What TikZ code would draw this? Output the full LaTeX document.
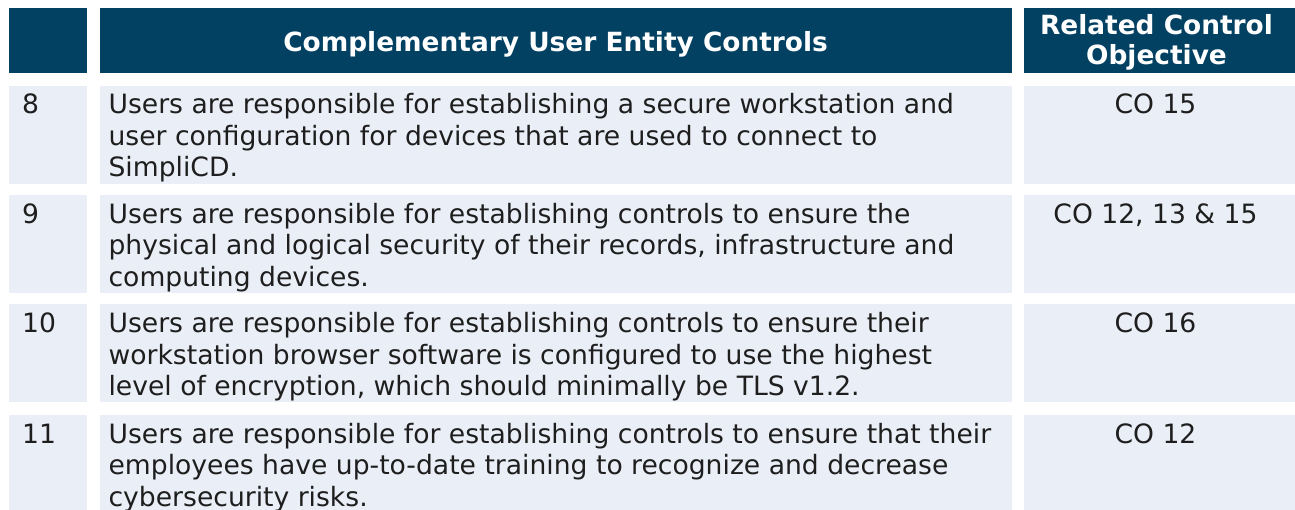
\documentclass[tikz,border=0pt]{standalone}
\usepackage{fontspec}
\usetikzlibrary{positioning}
\newfontfamily\bodyfont{DejaVu Sans}
\newfontfamily\headfont{DejaVu Sans}
\definecolor{headblue}{RGB}{3,65,99}
\definecolor{rowblue}{RGB}{234,239,247}
\definecolor{inkgray}{RGB}{30,30,30}
\tikzset{
  x=1pt, y=-1pt, % one unit is one pixel of the table, y runs down
  head/.style={fill=headblue, inner sep=0pt, minimum height=65pt}, % dark header cell
  cell/.style={fill=rowblue, inner sep=0pt, minimum height=98pt}, % light body cell
  numcol/.style={minimum width=78pt},
  desccol/.style={minimum width=912pt},
  objcol/.style={minimum width=271pt},
  txt/.style={text=inkgray, inner sep=0pt, align=left, font=\bodyfont\fontsize{26.6}{31.5}\selectfont},
  htxt/.style={text=white, inner sep=0pt, align=center, font=\headfont\bfseries\fontsize{26.4}{30}\selectfont},
}
\begin{document}
\begin{tikzpicture}
    \useasboundingbox (0,0) rectangle (1295,510);

    % header row
    \node[head, numcol, anchor=north west] (h1) at (9,8) {};
    \node[head, desccol, right=12pt of h1] (h2) {};
    \node[head, objcol, right=12pt of h2] (h3) {};

    % body cells
    \node[cell, numcol, below=12pt of h1.south west, anchor=north west] (n8) {};
    \node[cell, desccol, right=12pt of n8] (d8) {};
    \node[cell, objcol, right=12pt of d8] (o8) {};

    \node[cell, numcol, below=11pt of n8.south west, anchor=north west] (n9) {};
    \node[cell, desccol, right=12pt of n9] (d9) {};
    \node[cell, objcol, right=12pt of d9] (o9) {};

    \node[cell, numcol, below=11pt of n9.south west, anchor=north west] (n10) {};
    \node[cell, desccol, right=12pt of n10] (d10) {};
    \node[cell, objcol, right=12pt of d10] (o10) {};

    \node[cell, numcol, below=12pt of n10.south west, anchor=north west] (n11) {};
    \node[cell, desccol, right=12pt of n11] (d11) {};
    \node[cell, objcol, right=12pt of d11] (o11) {};

    % header texts (base is the last line)
    \node[htxt, anchor=base] (ht2) at ([yshift=-44pt]h2.north) {Complementary User Entity Controls};
    \node[htxt, anchor=base] (ht3) at ([xshift=-3pt, yshift=-57pt]h3.north) {Related Control\\Objective};

    % row texts (three lines: base of the last one is 63pt under the first)
    \node[txt, anchor=base west] (tn8) at ([xshift=13pt, yshift=-28.5pt]n8.north west) {8};
    \node[txt, anchor=base west] (td8) at ([xshift=9pt, yshift=-91.5pt]d8.north west)
      {Users are responsible for establishing a secure workstation and\\user configuration for devices that are used to connect to\\SimpliCD.};
    \node[txt, anchor=base] (to8) at ([xshift=-4pt, yshift=-28.5pt]o8.north) {CO 15};

    \node[txt, anchor=base west] (tn9) at ([xshift=13pt, yshift=-28.5pt]n9.north west) {9};
    \node[txt, anchor=base west] (td9) at ([xshift=9pt, yshift=-91.5pt]d9.north west)
      {Users are responsible for establishing controls to ensure the\\physical and logical security of their records, infrastructure and\\computing devices.};
    \node[txt, anchor=base] (to9) at ([xshift=-4pt, yshift=-28.5pt]o9.north) {CO 12, 13 \& 15};

    \node[txt, anchor=base west] (tn10) at ([xshift=13pt, yshift=-28.5pt]n10.north west) {10};
    \node[txt, anchor=base west] (td10) at ([xshift=9pt, yshift=-91.5pt]d10.north west)
      {Users are responsible for establishing controls to ensure their\\workstation browser software is configured to use the highest\\level of encryption, which should minimally be TLS v1.2.};
    \node[txt, anchor=base] (to10) at ([xshift=-4pt, yshift=-28.5pt]o10.north) {CO 16};

    \node[txt, anchor=base west] (tn11) at ([xshift=13pt, yshift=-28.5pt]n11.north west) {11};
    \node[txt, anchor=base west] (td11) at ([xshift=9pt, yshift=-91.5pt]d11.north west)
      {Users are responsible for establishing controls to ensure that their\\employees have up-to-date training to recognize and decrease\\cybersecurity risks.};
    \node[txt, anchor=base] (to11) at ([xshift=-4pt, yshift=-28.5pt]o11.north) {CO 12};

\end{tikzpicture}
\end{document}
